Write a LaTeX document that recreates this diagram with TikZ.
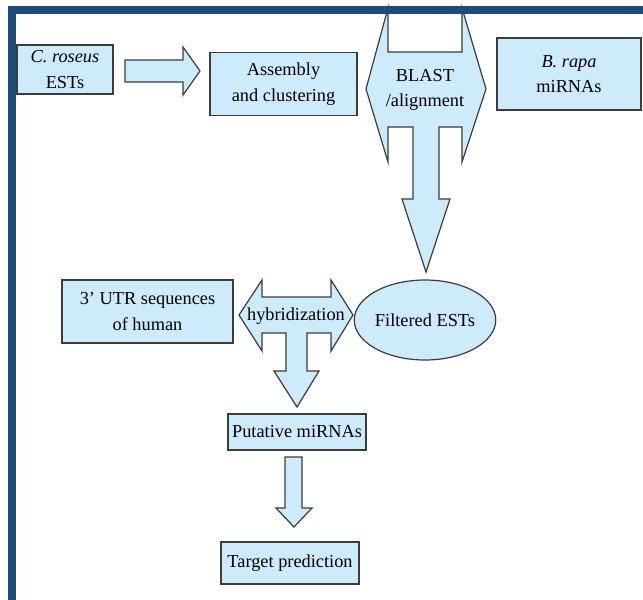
\documentclass[tikz,border=0pt]{standalone}
\usepackage{fontspec}
\setmainfont{Liberation Serif}
\usetikzlibrary{shapes.geometric}
\definecolor{boxfill}{HTML}{CDEBFB}
\definecolor{boxline}{HTML}{3C3C3C}
\definecolor{frameblue}{HTML}{1F4A7C}
\newcommand\px[1]{#1*0.75pt}
\begin{document}
\begin{tikzpicture}[x=0.75pt,y=-0.75pt,
  every node/.style={font=\fontsize{13.75}{19}\selectfont, align=center, inner sep=0pt},
  box/.style={draw=boxline, fill=boxfill, line width=0.9pt, rectangle},
  blockarrow/.style={draw=boxline, fill=boxfill, line width=0.9pt, line join=miter}]
\useasboundingbox (0,0) rectangle (643,600);
\fill[white] (0,0) rectangle (643,600);

% boxes
\node[box, minimum width=\px{96}, minimum height=\px{49}] (croseus) at (65,69.5) {\textit{C. roseus}\\ESTs};
\node[box, minimum width=\px{147}, minimum height=\px{63}] (assembly) at (283.5,84) {Assembly\\and clustering};
\node[box, minimum width=\px{144}, minimum height=\px{72}] (brapa) at (569,74) {\textit{B. rapa}\\miRNAs};
\node[box, ellipse, minimum width=\px{130}, minimum height=\px{80}] (filtered) at (425,320) {Filtered ESTs};
\node[box, minimum width=\px{171}, minimum height=\px{63}] (utr) at (147.5,311.5) {3’ UTR sequences\\of human};
\node[box, minimum width=\px{138}, minimum height=\px{36}] (putative) at (297,432) {Putative miRNAs};
\node[box, minimum width=\px{138}, minimum height=\px{42}] (target) at (290,563) {Target prediction};

% block arrow C. roseus -> Assembly
\draw[blockarrow] (125,60) -- (183,60) -- (183,47) -- (200,71) -- (183,95) -- (183,82) -- (125,82) -- cycle;

% BLAST / alignment shape
\draw[blockarrow] (388,8) -- (388,52) -- (462,52) -- (462,8) -- (486,89) -- (462,162) -- (462,127)
  -- (439,127) -- (439,199) -- (450,199) -- (426,272) -- (402,199) -- (413,199) -- (413,127)
  -- (388,127) -- (388,162) -- (366,89) -- cycle;
\node (blast) at (425,90) {BLAST\\/alignment};

% hybridization shape
\draw[blockarrow] (239,315) -- (262,280) -- (262,297) -- (331,297) -- (331,280) -- (353,315)
  -- (331,351) -- (331,333) -- (307,333) -- (307,371) -- (319,371) -- (297,407) -- (274,371)
  -- (286,371) -- (286,333) -- (262,333) -- (262,351) -- cycle;
\node (hybrid) at (296,316) {hybridization};

% Putative -> Target
\draw[blockarrow] (285,457) -- (302,457) -- (302,508) -- (312,508) -- (294,527) -- (276,508) -- (285,508) -- cycle;

% frame
\fill[frameblue] (8,6) rectangle (643,14);
\fill[frameblue] (8,6) rectangle (16,600);
\end{tikzpicture}
\end{document}
